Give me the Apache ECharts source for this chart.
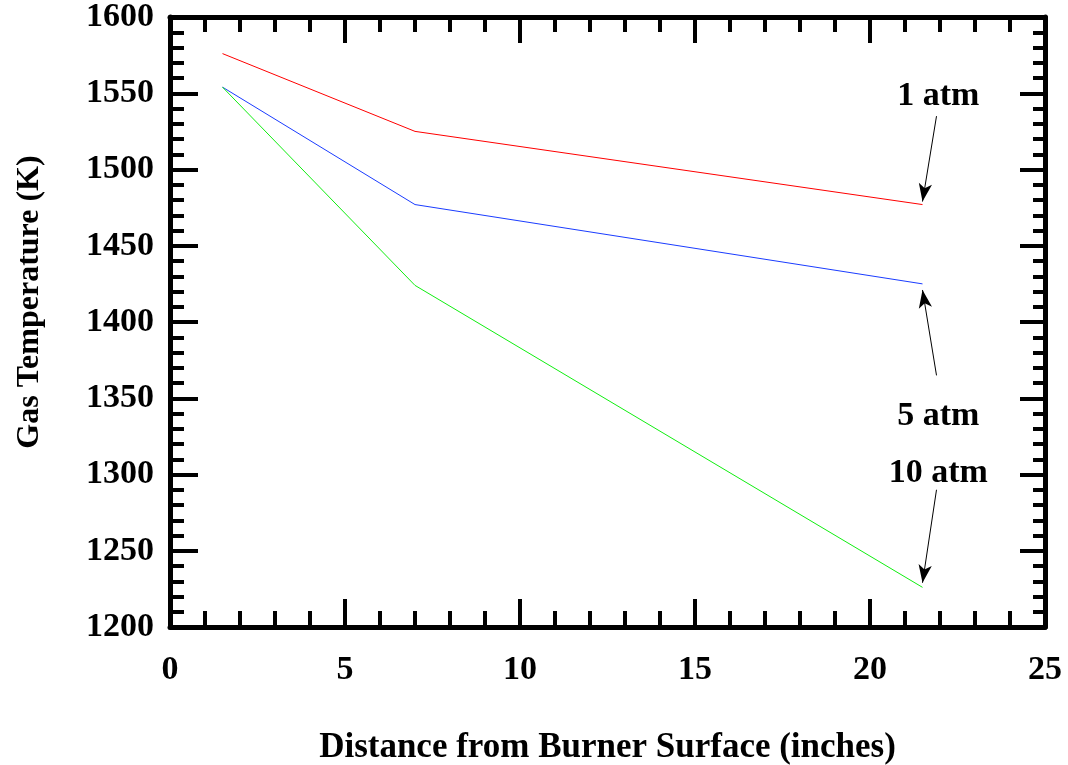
<!DOCTYPE html>
<html><head><meta charset="utf-8">
<script src="https://cdn.jsdelivr.net/npm/echarts@6/dist/echarts.min.js"></script>
<style>html,body{margin:0;padding:0;background:#fff}#c{width:1068px;height:765px}</style>
</head><body><div id="c"></div>
<script>
const distance = [1.5, 7, 21.5];
const temp1atm = [1576, 1525, 1477];
const temp5atm = [1554, 1477, 1425];
const temp10atm = [1554, 1424, 1226];
const seriesNames = ['1 atm', '5 atm', '10 atm'];
const seriesColors = ['#ff0000', '#1a3cff', '#11ee11'];
// annotation: label anchor [x, y] and arrow [from, to] in data units
const labelPos = [[21.95, 1548], [21.95, 1338], [21.95, 1301]];
const arrowFrom = [[21.9, 1535], [21.9, 1365], [21.9, 1290]];
const arrowTo = [[21.5, 1479], [21.5, 1421], [21.5, 1229]];

const FONT = 'Liberation Serif';
const chart = echarts.init(document.getElementById('c'));
const allTemps = [temp1atm, temp5atm, temp10atm];
const series = allTemps.map((t, i) => ({
  type: 'line', name: seriesNames[i], data: distance.map((d, j) => [d, t[j]]),
  symbol: 'none', lineStyle: {color: seriesColors[i], width: 1}, z: 3
}));
series.push({
  type: 'scatter', symbolSize: 0, silent: true,
  itemStyle: {opacity: 1},
  data: labelPos.map((p, i) => ({value: p, name: seriesNames[i]})),
  label: {show: true, position: 'inside', formatter: p => p.name, color: '#000', opacity: 1,
    fontFamily: FONT, fontWeight: 'bold', fontSize: 34},
  markLine: {
    silent: true, symbol: ['none', 'arrow'], symbolSize: [10, 18],
    lineStyle: {color: '#000', width: 1, type: 'solid', opacity: 1}, label: {show: false},
    itemStyle: {color: '#000'},
    data: arrowFrom.map((f, i) => [{coord: f}, {coord: arrowTo[i]}])
  }
});
const tickStyle = {color: '#000', width: 4};
const common = (pos) => ({
  min: pos.min, max: pos.max, interval: pos.interval,
  axisLine: {show: true, onZero: false, lineStyle: {color: '#000', width: 5}},
  axisTick: {show: true, inside: true, length: pos.major, lineStyle: tickStyle},
  minorTick: {show: true, splitNumber: 5, length: pos.minor, lineStyle: {color: '#000', width: 4}},
  splitLine: {show: false}
});
chart.setOption({
  animation: false,
  backgroundColor: '#fff',
  grid: {left: 170, right: 23, top: 17, bottom: 138, outerBoundsMode: 'none', containLabel: false},
  xAxis: [
    Object.assign(common({min: 0, max: 25, interval: 5, major: 28, minor: 16}), {
      type: 'value', position: 'bottom',
      name: 'Distance from Burner Surface (inches)', nameLocation: 'middle', nameGap: 103,
      nameTextStyle: {fontFamily: FONT, fontWeight: 'bold', fontSize: 35, color: '#000'},
      axisLabel: {fontFamily: FONT, fontWeight: 'bold', fontSize: 34, color: '#000', margin: 26}
    }),
    Object.assign(common({min: 0, max: 25, interval: 5, major: 26, minor: 15}), {
      type: 'value', position: 'top', axisLabel: {show: false}
    })
  ],
  yAxis: [
    Object.assign(common({min: 1200, max: 1600, interval: 50, major: 28, minor: 14}), {
      type: 'value', position: 'left',
      name: 'Gas Temperature (K)', nameLocation: 'middle', nameGap: 124,
      nameTextStyle: {fontFamily: FONT, fontWeight: 'bold', fontSize: 32, color: '#000',
        padding: [0, 0, 0, 40]},
      axisLabel: {fontFamily: FONT, fontWeight: 'bold', fontSize: 34, color: '#000', margin: 16,
        padding: [10, 0, 0, 0], formatter: v => String(v)}
    }),
    Object.assign(common({min: 1200, max: 1600, interval: 50, major: 25, minor: 12}), {
      type: 'value', position: 'right', axisLabel: {show: false}
    })
  ],
  series: series
});
</script></body></html>
